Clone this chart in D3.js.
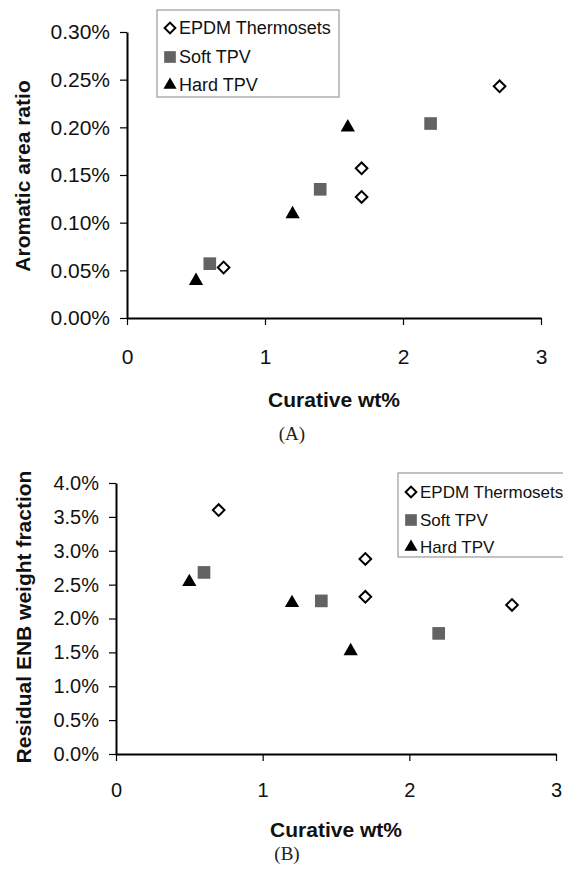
<!DOCTYPE html>
<html>
<head>
<meta charset="utf-8">
<script src="https://cdn.jsdelivr.net/npm/d3@7"></script>
<style>
  body { margin: 0; background: #fff; }
  svg { display: block; }
</style>
</head>
<body>
<div id="my_dataviz"></div>
<script>
// series names used in both legends
const seriesNames = ["EPDM Thermosets", "Soft TPV", "Hard TPV"];

// curative wt% for each series
const epdmCurative = [0.7, 1.7, 1.7, 2.7];
const softCurative = [0.6, 1.4, 2.2];
const hardCurative = [0.5, 1.2, 1.6];

// (A) aromatic area ratio, in %
const epdmAromatic = [0.053, 0.157, 0.127, 0.243];
const softAromatic = [0.057, 0.135, 0.204];
const hardAromatic = [0.039, 0.109, 0.2];

// (B) residual ENB weight fraction, in %
const epdmResidual = [3.6, 2.88, 2.32, 2.2];
const softResidual = [2.68, 2.26, 1.78];
const hardResidual = [2.54, 2.23, 1.52];

// tick labels
const curativeTicks = [0, 1, 2, 3];
const aromaticTicks = [0, 0.05, 0.1, 0.15, 0.2, 0.25, 0.3];
const residualTicks = [0, 0.5, 1, 1.5, 2, 2.5, 3, 3.5, 4];

const width = 563,
  height = 873;
const sans = "'Liberation Sans', Arial, Helvetica, sans-serif";
const serif = "'Liberation Serif', 'Times New Roman', serif";

const svg = d3
  .select("#my_dataviz")
  .append("svg")
  .attr("width", width)
  .attr("height", height);

// marker look per series
const markers = [
  { type: d3.symbolSquare, size: 68, fill: "#fff", stroke: "#000", sw: 2, rot: 45 },
  { type: d3.symbolSquare, size: 160, fill: "#636363", stroke: "none", sw: 0, rot: 0 },
  { type: d3.symbolTriangle, size: 88, fill: "#000", stroke: "none", sw: 0, rot: 0 }
];

function drawPanel(p) {
  const g = svg.append("g");

  const x = d3.scaleLinear().domain([0, 3]).range(p.xRange);
  const y = d3.scaleLinear().domain(p.yDomain).range(p.yRange);

  // y axis
  const yAxis = g
    .append("g")
    .attr("transform", `translate(${p.xRange[0]},0)`)
    .call(
      d3
        .axisLeft(y)
        .tickValues(p.yTicks)
        .tickFormat(d3.format(p.yFormat))
        .tickSize(7)
        .tickSizeOuter(0)
        .tickPadding(10)
    );
  yAxis.select(".domain").attr("stroke", "#000").attr("stroke-width", 2);
  yAxis.selectAll(".tick line").attr("stroke", "#000").attr("stroke-width", 1.2);
  yAxis
    .selectAll(".tick text")
    .attr("fill", "#111")
    .style("font-family", sans)
    .style("font-size", p.tickFont + "px");

  // x axis
  const xAxis = g
    .append("g")
    .attr("transform", `translate(0,${p.yRange[0]})`)
    .call(
      d3
        .axisBottom(x)
        .tickValues(curativeTicks)
        .tickFormat(d3.format("d"))
        .tickSize(7)
        .tickSizeOuter(0)
        .tickPadding(p.xPad)
    );
  xAxis.select(".domain").attr("stroke", "#000").attr("stroke-width", 2);
  xAxis.selectAll(".tick line").attr("stroke", "#000").attr("stroke-width", 1.2);
  xAxis
    .selectAll(".tick text")
    .attr("fill", "#111")
    .style("font-family", sans)
    .style("font-size", p.tickFont + "px");

  // axis titles
  g.append("text")
    .attr("x", p.xTitle[0])
    .attr("y", p.xTitle[1])
    .attr("text-anchor", "middle")
    .style("font-family", sans)
    .style("font-weight", "bold")
    .style("font-size", "21px")
    .attr("fill", "#111")
    .text("Curative wt%");

  g.append("text")
    .attr("transform", `translate(${p.yTitle[0]},${p.yTitle[1]}) rotate(-90)`)
    .attr("text-anchor", "middle")
    .attr("dominant-baseline", "central")
    .style("font-family", sans)
    .style("font-weight", "bold")
    .style("font-size", "21px")
    .attr("fill", "#111")
    .text(p.yLabel);

  // caption
  g.append("text")
    .attr("x", p.caption[0])
    .attr("y", p.caption[1])
    .attr("text-anchor", "middle")
    .style("font-family", serif)
    .style("font-size", "19px")
    .attr("fill", "#222")
    .text(p.captionText);

  // points
  p.series.forEach(function (s, i) {
    const m = markers[i];
    const pts = s.xs.map(function (d, j) {
      return [d, s.ys[j]];
    });
    g.selectAll(".pt" + i)
      .data(pts)
      .join("path")
      .attr("d", d3.symbol().type(m.type).size(m.size))
      .attr("transform", function (d) {
        return `translate(${x(d[0])},${y(d[1])}) rotate(${m.rot})`;
      })
      .attr("fill", m.fill)
      .attr("stroke", m.stroke)
      .attr("stroke-width", m.sw);
  });

  // legend
  const L = p.legend;
  g.append("rect")
    .attr("x", L.x)
    .attr("y", L.y)
    .attr("width", L.w)
    .attr("height", L.h)
    .attr("fill", "#fff")
    .attr("stroke", "#999")
    .attr("stroke-width", 1.2);

  seriesNames.forEach(function (name, i) {
    const m = markers[i];
    const cy = L.rows[i];
    g.append("path")
      .attr("d", d3.symbol().type(m.type).size(m.size * 0.85))
      .attr("transform", `translate(${L.mx},${cy}) rotate(${m.rot})`)
      .attr("fill", m.fill)
      .attr("stroke", m.stroke)
      .attr("stroke-width", m.sw);
    g.append("text")
      .attr("x", L.tx)
      .attr("y", cy)
      .attr("dy", "0.36em")
      .style("font-family", sans)
      .style("font-size", L.font + "px")
      .attr("fill", "#111")
      .text(name);
  });
}

drawPanel({
  xRange: [127, 541],
  yRange: [318, 32],
  yDomain: [0, 0.3],
  yTicks: aromaticTicks,
  yFormat: ".2f",
  tickFont: 21,
  xPad: 24,
  xTitle: [334, 407],
  yTitle: [22, 176],
  yLabel: "Aromatic area ratio",
  caption: [292, 440],
  captionText: "(A)",
  series: [
    { xs: epdmCurative, ys: epdmAromatic },
    { xs: softCurative, ys: softAromatic },
    { xs: hardCurative, ys: hardAromatic }
  ],
  legend: { x: 157, y: 10, w: 182, h: 87, mx: 170, tx: 179, rows: [28, 57, 85], font: 18 }
});

drawPanel({
  xRange: [116, 556],
  yRange: [754, 483],
  yDomain: [0, 4],
  yTicks: residualTicks,
  yFormat: ".1f",
  tickFont: 20,
  xPad: 22,
  xTitle: [336, 837],
  yTitle: [23, 617],
  yLabel: "Residual ENB weight fraction",
  caption: [287, 860],
  captionText: "(B)",
  series: [
    { xs: epdmCurative, ys: epdmResidual },
    { xs: softCurative, ys: softResidual },
    { xs: hardCurative, ys: hardResidual }
  ],
  legend: { x: 398, y: 473, w: 180, h: 84, mx: 411, tx: 420, rows: [492, 520, 547], font: 17 }
});

// add % sign to the y tick labels
svg.selectAll(".tick text").each(function () {
  const t = d3.select(this);
  if (t.text().indexOf(".") > -1) t.text(t.text() + "%");
});
</script>
</body>
</html>
